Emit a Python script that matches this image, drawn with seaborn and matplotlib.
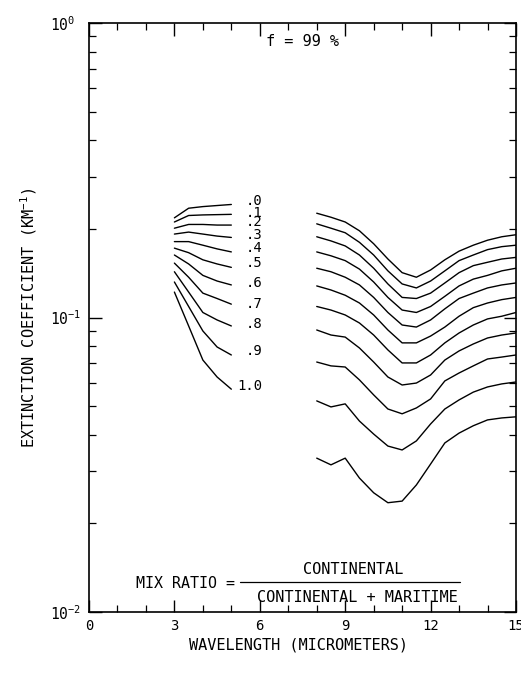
import matplotlib
matplotlib.use("Agg")
import matplotlib.pyplot as plt
import pandas as pd
import seaborn as sns
from matplotlib.ticker import MultipleLocator, LogLocator, NullFormatter, FixedLocator

# Aerosol extinction for continental/maritime mixtures, relative humidity f = 99 %
mix_ratios = [0.0, 0.1, 0.2, 0.3, 0.4, 0.5, 0.6, 0.7, 0.8, 0.9, 1.0]
mix_labels = [".0", ".1", ".2", ".3", ".4", ".5", ".6", ".7", ".8", ".9", "1.0"]
# extinction level (km^-1) at which each mix-ratio label is written
label_ext = [0.249, 0.226, 0.211, 0.191, 0.172, 0.153, 0.131, 0.111, 0.095, 0.077, 0.0585]

# wavelengths (micrometers) of the two atmospheric windows
wl_mwir = [3.0, 3.5, 4.0, 4.5, 5.0]
wl_lwir = [8.0, 8.5, 9.0, 9.5, 10.0, 10.5, 11.0, 11.5, 12.0, 12.5, 13.0, 13.5, 14.0, 14.5, 15.0]

# 3-5 um window, one list per mix ratio
mwir_00 = [0.218, 0.235, 0.238, 0.240, 0.242]
mwir_01 = [0.211, 0.222, 0.223, 0.2235, 0.224]
mwir_02 = [0.201, 0.207, 0.207, 0.206, 0.206]
mwir_03 = [0.192, 0.195, 0.192, 0.189, 0.187]
mwir_04 = [0.181, 0.181, 0.176, 0.171, 0.167]
mwir_05 = [0.172, 0.166, 0.157, 0.152, 0.148]
mwir_06 = [0.163, 0.152, 0.139, 0.133, 0.129]
mwir_07 = [0.153, 0.137, 0.121, 0.116, 0.111]
mwir_08 = [0.143, 0.122, 0.104, 0.0981, 0.0936]
mwir_09 = [0.132, 0.109, 0.0900, 0.0794, 0.0746]
mwir_10 = [0.122, 0.0936, 0.0717, 0.0628, 0.0571]

# 8-15 um window, one list per mix ratio
lwir_00 = [0.226, 0.219, 0.211, 0.197, 0.178, 0.158, 0.142, 0.137, 0.145, 0.157, 0.168, 0.176, 0.183, 0.188, 0.191]
lwir_01 = [0.208, 0.201, 0.194, 0.180, 0.163, 0.144, 0.130, 0.126, 0.133, 0.144, 0.156, 0.163, 0.170, 0.174, 0.176]
lwir_02 = [0.188, 0.182, 0.175, 0.163, 0.147, 0.130, 0.117, 0.116, 0.121, 0.131, 0.142, 0.150, 0.154, 0.158, 0.160]
lwir_03 = [0.167, 0.162, 0.156, 0.146, 0.132, 0.117, 0.106, 0.104, 0.109, 0.118, 0.128, 0.135, 0.139, 0.144, 0.147]
lwir_04 = [0.147, 0.143, 0.137, 0.129, 0.117, 0.104, 0.0943, 0.0928, 0.0981, 0.107, 0.116, 0.121, 0.126, 0.129, 0.131]
lwir_05 = [0.128, 0.124, 0.119, 0.112, 0.102, 0.0907, 0.0820, 0.0820, 0.0865, 0.0928, 0.101, 0.108, 0.112, 0.115, 0.117]
lwir_06 = [0.109, 0.106, 0.102, 0.0958, 0.0872, 0.0776, 0.0701, 0.0701, 0.0746, 0.0820, 0.0886, 0.0943, 0.0989, 0.101, 0.104]
lwir_07 = [0.0907, 0.0872, 0.0858, 0.0788, 0.0706, 0.0628, 0.0590, 0.0599, 0.0638, 0.0717, 0.0770, 0.0813, 0.0852, 0.0872, 0.0886]
lwir_08 = [0.0706, 0.0685, 0.0679, 0.0614, 0.0546, 0.0489, 0.0471, 0.0493, 0.0529, 0.0609, 0.0648, 0.0685, 0.0723, 0.0734, 0.0746]
lwir_09 = [0.0521, 0.0497, 0.0509, 0.0445, 0.0402, 0.0366, 0.0355, 0.0381, 0.0435, 0.0489, 0.0525, 0.0558, 0.0581, 0.0595, 0.0604]
lwir_10 = [0.0333, 0.0316, 0.0333, 0.0285, 0.0254, 0.0235, 0.0238, 0.0270, 0.0318, 0.0375, 0.0405, 0.0429, 0.0449, 0.0456, 0.0460]

mwir_curves = [mwir_00, mwir_01, mwir_02, mwir_03, mwir_04, mwir_05,
               mwir_06, mwir_07, mwir_08, mwir_09, mwir_10]
lwir_curves = [lwir_00, lwir_01, lwir_02, lwir_03, lwir_04, lwir_05,
               lwir_06, lwir_07, lwir_08, lwir_09, lwir_10]

records = []
for ratio, mw, lw in zip(mix_ratios, mwir_curves, lwir_curves):
    for w, e in zip(wl_mwir, mw):
        records.append({"ratio": ratio, "band": "mwir", "wavelength": w, "ext": e})
    for w, e in zip(wl_lwir, lw):
        records.append({"ratio": ratio, "band": "lwir", "wavelength": w, "ext": e})
df = pd.DataFrame(records)
df["segment"] = df["band"] + "_" + df["ratio"].map("{:.1f}".format)

sns.set_theme(style="ticks")
plt.rcParams["font.family"] = ["DejaVu Sans Mono"]
plt.rcParams.update({
    "mathtext.fontset": "custom",
    "mathtext.rm": "DejaVu Sans Mono",
    "mathtext.it": "DejaVu Sans Mono",
    "mathtext.bf": "DejaVu Sans Mono",
    "mathtext.default": "regular",
    "axes.edgecolor": "black",
    "axes.labelcolor": "black",
    "text.color": "black",
    "xtick.color": "black",
    "ytick.color": "black",
    "axes.linewidth": 1.2,
})

W, H = 521, 675
fig = plt.figure(figsize=(W / 100, H / 100), dpi=100)
ax = fig.add_axes([89 / W, 63 / H, 427 / W, 589 / H])
ax.set_yscale("log")

sns.lineplot(data=df, x="wavelength", y="ext", units="segment", estimator=None,
             sort=False, color="black", linewidth=1.0, ax=ax, legend=False)

ax.set_xlim(0, 15)
ax.set_ylim(0.01, 1)

# axes ticks: inward on all four sides
ax.xaxis.set_major_locator(MultipleLocator(3))
ax.xaxis.set_minor_locator(MultipleLocator(1))
ax.yaxis.set_major_locator(FixedLocator([0.01, 0.1, 1.0]))
ax.yaxis.set_minor_locator(LogLocator(base=10, subs=range(2, 10)))
ax.yaxis.set_minor_formatter(NullFormatter())
ax.set_xticks([0, 3, 6, 9, 12, 15])
ax.set_xticklabels(["0", "3", "6", "9", "12", "15"], fontsize=10)
ax.set_yticks([0.01, 0.1, 1.0])
ax.set_yticklabels([r"$10^{-2}$", r"$10^{-1}$", r"$10^{0}$"], fontsize=10.5)
ax.tick_params(which="both", direction="in", top=True, right=True, width=1.0)
ax.tick_params(which="major", length=9)
ax.tick_params(which="minor", length=5, width=0.9)
ax.tick_params(axis="x", which="major", pad=5)
ax.tick_params(axis="y", which="major", pad=28)
for lab in ax.get_yticklabels():
    lab.set_horizontalalignment("left")

ax.set_xlabel("WAVELENGTH (MICROMETERS)", fontsize=11)
ax.set_ylabel(r"EXTINCTION COEFFICIENT (KM$^{-1}$)", fontsize=11)
ax.xaxis.set_label_coords(0.49, -0.044)
ax.yaxis.set_label_coords(-0.118, 0.5)

# mix-ratio labels at the end of the 3-5 um curves
for lab, y in zip(mix_labels, label_ext):
    ax.text(6.1, y, lab, ha="right", va="center", fontsize=10)

ax.text(0.501, 0.968, "f = 99 %", transform=ax.transAxes,
        ha="center", va="center", fontsize=11)

# mix ratio definition
ax.text(0.110, 0.049, "MIX RATIO =", transform=ax.transAxes,
        ha="left", va="center", fontsize=10.8)
ax.text(0.618, 0.073, "CONTINENTAL", transform=ax.transAxes,
        ha="center", va="center", fontsize=11)
ax.plot([0.354, 0.869], [0.051, 0.051], transform=ax.transAxes,
        color="black", linewidth=0.9)
ax.text(0.628, 0.0238, "CONTINENTAL + MARITIME", transform=ax.transAxes,
        ha="center", va="center", fontsize=11)

fig.savefig("out.png", dpi=100, facecolor="white")
